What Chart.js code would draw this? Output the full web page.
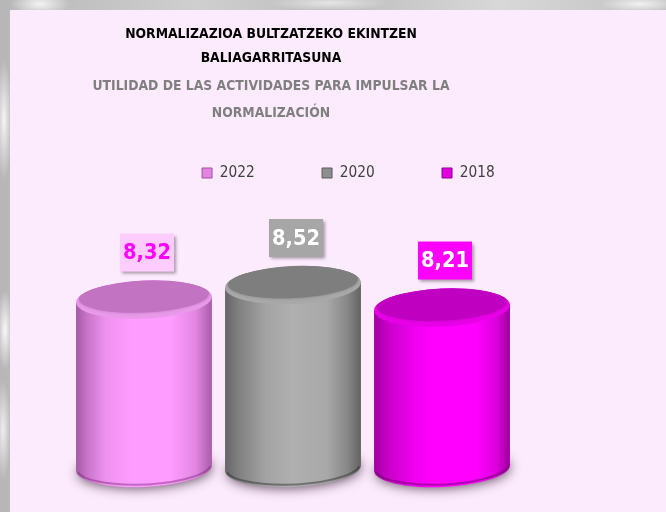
<!DOCTYPE html>
<html>
<head>
<meta charset="utf-8">
<script src="https://cdn.jsdelivr.net/npm/chart.js@4.4.0/dist/chart.umd.min.js"></script>
<style>
html,body{margin:0;padding:0;width:666px;height:512px;overflow:hidden;}
body{background:
 radial-gradient(ellipse 30px 12px at 40px 4px, #f4f4f4, transparent),
 radial-gradient(ellipse 40px 8px at 640px 4px, #f2f2f2, transparent),
 radial-gradient(ellipse 60px 8px at 330px 3px, #e6e6e6, transparent),
 radial-gradient(ellipse 8px 60px at 4px 120px, #f5f5f5, transparent),
 radial-gradient(ellipse 8px 40px at 5px 330px, #f8f8f8, transparent),
 radial-gradient(ellipse 8px 50px at 3px 430px, #eeeeee, transparent),
 linear-gradient(90deg, #b7b7b7, #cfcfcf 30%, #bdbdbd 50%, #d8d8d8 75%, #c2c2c2);}
#wrap{position:absolute;left:10px;top:10px;width:656px;height:502px;background:#FCEBFC;}
canvas{display:block;}
</style>
</head>
<body>
<div id="wrap"><canvas id="c" width="656" height="502"></canvas></div>
<script>
// ---- data ----
const categories = [''];
const seriesNames = ['2022', '2020', '2018'];
const values2022 = [8.32];
const values2020 = [8.52];
const values2018 = [8.21];
const titleLines = ['NORMALIZAZIOA BULTZATZEKO EKINTZEN', 'BALIAGARRITASUNA'];
const subtitleLines = ['UTILIDAD DE LAS ACTIVIDADES PARA IMPULSAR LA', 'NORMALIZACIÓN'];

// ---- styles ----
const FONT = "'Liberation Sans Narrow', 'DejaVu Sans Condensed', Roboto, 'Liberation Sans', sans-serif";
const styles = [
  { legend:'#E285E2', border:'#A050A0', top:'#C274C2', rim:'#E999E9', rimDark:'rgba(120,40,120,0.45)',
    body:[[0,'#A35AA3'],[0.08,'#C873C8'],[0.22,'#EE92EE'],[0.4,'#FF9CFF'],[0.7,'#FF9CFF'],[0.88,'#E286E2'],[1,'#A85CA8']],
    labelBg:'#FFCCFF', labelText:'#FF00FF' },
  { legend:'#8E8E8E', border:'#5A5A5A', top:'#7E7E7E', rim:'#A8A8A8', rimDark:'rgba(40,40,40,0.45)',
    body:[[0,'#666666'],[0.1,'#808080'],[0.3,'#A3A3A3'],[0.5,'#B0B0B0'],[0.75,'#A8A8A8'],[0.9,'#878787'],[1,'#636363']],
    labelBg:'#A6A6A6', labelText:'#FFFFFF' },
  { legend:'#E000E0', border:'#900090', top:'#C000C0', rim:'#E800E8', rimDark:'rgba(100,0,100,0.5)',
    body:[[0,'#A000A0'],[0.1,'#C800C8'],[0.3,'#F000F0'],[0.45,'#FF00FF'],[0.75,'#FF00FF'],[0.9,'#DB00DB'],[1,'#9C009C']],
    labelBg:'#FF00FF', labelText:'#FFFFFF' }
];

const mctx = document.createElement('canvas').getContext('2d');
function fitSize(text, target, weight) {
  mctx.font = weight + ' 100px ' + FONT;
  return 100 * target / mctx.measureText(text).width;
}
const titleSize = fitSize(titleLines[0], 292, 'bold');
const legendSize = fitSize('2022', 35, 'normal');
const labelSize = fitSize('8,32', 48, 'bold');

const legendBox = 10;
const legendPad = 120 - legendBox - legendSize / 2 - 35;
const legendCenterY = 163;
const legendTop = legendCenterY - legendPad - legendSize / 2;
const titlePadTop = 12.8;
const subPadTop = 2.2;
const subBottomNoPad = titlePadTop + 48 + subPadTop + 54;
const subPadBottom = legendTop - subBottomNoPad;

const RY = 19, TILT = -0.045;
const fmt = v => v.toFixed(2).replace('.', ',');

function drawCylinder(ctx, x, yTop, yBase, rx, st) {
  const c = Math.cos(TILT), s = Math.sin(TILT);
  ctx.save();
  // soft shadow under base
  ctx.save();
  ctx.shadowColor = 'rgba(60,40,60,0.8)';
  ctx.shadowBlur = 12; ctx.shadowOffsetX = 1; ctx.shadowOffsetY = 3;
  ctx.beginPath(); ctx.ellipse(x, yBase - 1, rx - 1, RY - 1, TILT, 0, Math.PI * 2);
  ctx.fillStyle = st.body[1][1]; ctx.fill();
  ctx.restore();
  // body
  const g = ctx.createLinearGradient(x - rx, 0, x + rx, 0);
  st.body.forEach(([o, col]) => g.addColorStop(o, col));
  ctx.beginPath();
  ctx.moveTo(x + rx * c, yTop + rx * s);
  ctx.lineTo(x + rx * c, yBase + rx * s);
  ctx.ellipse(x, yBase, rx, RY, TILT, 0, Math.PI, false);
  ctx.lineTo(x - rx * c, yTop - rx * s);
  ctx.closePath();
  ctx.fillStyle = g; ctx.fill();
  // bottom rim
  ctx.beginPath();
  ctx.ellipse(x, yBase - 1.5, rx - 1, RY - 1, TILT, 0.15, Math.PI - 0.15);
  ctx.strokeStyle = st.rimDark; ctx.lineWidth = 2; ctx.stroke();
  // top face with bevel
  ctx.beginPath(); ctx.ellipse(x, yTop, rx, RY, TILT, 0, Math.PI * 2);
  ctx.fillStyle = st.rim; ctx.fill();
  ctx.save();
  ctx.clip();
  ctx.beginPath(); ctx.ellipse(x, yTop - 3, rx - 3, RY - 3, TILT, 0, Math.PI * 2);
  ctx.fillStyle = st.top; ctx.shadowColor = st.top; ctx.shadowBlur = 3; ctx.fill();
  ctx.restore();
  ctx.restore();
}

function drawLabel(ctx, x, yTop, v, st) {
  ctx.save();
  ctx.font = 'bold ' + labelSize + 'px ' + FONT;
  const txt = fmt(v);
  const tw = ctx.measureText(txt).width;
  const bw = tw + 6, bh = 38;
  const bx = x + 3 - bw / 2, by = yTop - 28 - bh;
  ctx.shadowColor = 'rgba(0,0,0,0.35)'; ctx.shadowBlur = 3; ctx.shadowOffsetX = 2; ctx.shadowOffsetY = 2;
  ctx.fillStyle = st.labelBg; ctx.fillRect(bx, by, bw, bh);
  ctx.shadowColor = 'transparent';
  ctx.fillStyle = st.labelText; ctx.textAlign = 'center'; ctx.textBaseline = 'middle';
  ctx.fillText(txt, bx + bw / 2, by + bh / 2 + 1);
  ctx.restore();
}

const cylinderPlugin = {
  id: 'cylinders',
  beforeDatasetDraw(chart, args) {
    const st = styles[args.index];
    args.meta.data.forEach(el => {
      const p = el.getProps(['x', 'y', 'base', 'width'], true);
      drawCylinder(chart.ctx, p.x, p.y, p.base, p.width / 2, st);
    });
    return false;
  },
  afterDatasetsDraw(chart) {
    chart.data.datasets.forEach((ds, i) => {
      const meta = chart.getDatasetMeta(i);
      meta.data.forEach((el, j) => {
        const p = el.getProps(['x', 'y'], true);
        drawLabel(chart.ctx, p.x, p.y, ds.data[j], styles[i]);
      });
    });
  }
};

const chartBottom = 458;
const yMin = 6;
const yMax = 9.82;

const seriesValues = [values2022, values2020, values2018];
const datasets = seriesNames.map((name, i) => ({
  label: name,
  data: seriesValues[i],
  base: yMin,
  backgroundColor: styles[i].legend,
  borderColor: styles[i].border,
  borderWidth: 1,
  categoryPercentage: 0.8309,
  barPercentage: 0.9128
}));

new Chart(document.getElementById('c'), {
  type: 'bar',
  data: { labels: categories, datasets },
  options: {
    responsive: false,
    animation: false,
    devicePixelRatio: 1,
    layout: { padding: { left: -30, right: 104, top: 0, bottom: 502 - chartBottom } },
    scales: {
      x: { display: false },
      y: {
        display: true, min: yMin, max: yMax, beginAtZero: false,
        ticks: { display: false }, grid: { display: false }, border: { display: false },
        afterFit(s) { s.width = 44; }
      }
    },
    plugins: {
      tooltip: { enabled: false },
      title: {
        display: true, text: titleLines, color: '#000000',
        font: { family: FONT, size: titleSize, weight: 'bold', lineHeight: '24px' },
        padding: { top: titlePadTop, bottom: 0 }
      },
      subtitle: {
        display: true, text: subtitleLines, color: '#7F7F7F',
        font: { family: FONT, size: titleSize, weight: 'bold', lineHeight: '27px' },
        padding: { top: subPadTop, bottom: subPadBottom }
      },
      legend: {
        display: true, position: 'top', align: 'end', fullSize: false,
        labels: {
          boxWidth: legendBox, boxHeight: legendBox, padding: legendPad, color: '#404040',
          font: { family: FONT, size: legendSize }
        }
      }
    }
  },
  plugins: [cylinderPlugin]
});
</script>
</body>
</html>
